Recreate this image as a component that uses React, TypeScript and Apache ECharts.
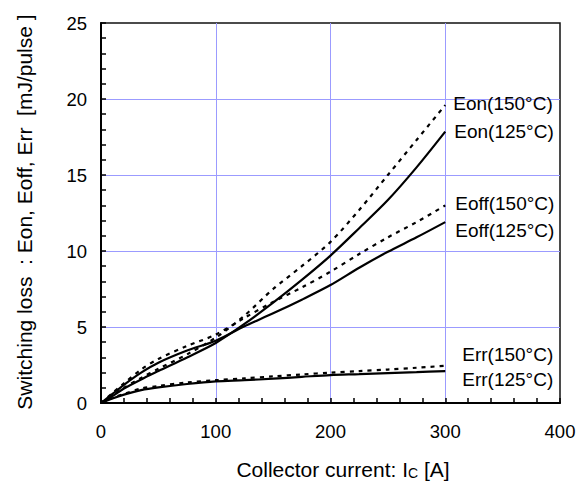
import React, { useEffect, useRef } from "react";
import * as echarts from "echarts";

const currents = [0, 10, 20, 35, 50, 75, 100, 125, 150, 175, 200, 225, 250, 275, 300];
const eon125 = [0, 0.45, 0.95, 1.55, 2.1, 3.0, 3.95, 5.2, 6.6, 8.1, 9.7, 11.5, 13.35, 15.5, 17.85];
const eon150 = [0, 0.5, 1.0, 1.65, 2.25, 3.2, 4.3, 5.75, 7.5, 9.0, 10.6, 12.7, 15.0, 17.3, 19.6];
const eoff125 = [0, 0.6, 1.2, 2.0, 2.65, 3.45, 4.1, 5.05, 5.9, 6.8, 7.76, 8.9, 9.95, 10.9, 11.9];
const eoff150 = [0, 0.65, 1.3, 2.2, 2.9, 3.75, 4.5, 5.6, 6.65, 7.6, 8.64, 9.8, 10.9, 11.9, 13.0];
const err125 = [0, 0.3, 0.55, 0.85, 1.03, 1.25, 1.42, 1.5, 1.6, 1.72, 1.84, 1.9, 1.97, 2.03, 2.1];
const err150 = [0, 0.33, 0.6, 0.95, 1.12, 1.35, 1.5, 1.62, 1.75, 1.88, 2.0, 2.1, 2.2, 2.32, 2.45];

const seriesNames = ["Eon(150°C)", "Eon(125°C)", "Eoff(150°C)", "Eoff(125°C)", "Err(150°C)", "Err(125°C)"];
const seriesValues = [eon150, eon125, eoff150, eoff125, err150, err125];
const seriesDashed = [true, false, true, false, true, false];
const labelOffsets: number[][] = [[0, -2], [1, 0], [2, -2], [2, 8], [9, -11], [9, 8]];

const xTicks = [0, 100, 200, 300, 400];
const yTicks = [0, 5, 10, 15, 20, 25];

const FONT = "'Liberation Sans', Arial, sans-serif";

export default function App() {
  const ref = useRef<HTMLDivElement>(null);
  useEffect(() => {
    if (!ref.current) return;
    const chart = echarts.init(ref.current, undefined, { renderer: "svg" });
    chart.setOption({
      animation: false,
      backgroundColor: "#fff",
      textStyle: { fontFamily: FONT },
      grid: {
        left: 101, right: 24, top: 23, bottom: 87,
        show: true, borderColor: "#111", borderWidth: 1.5,
      },
      xAxis: {
        type: "value",
        min: xTicks[0], max: xTicks[xTicks.length - 1], interval: 100,
        axisLine: { show: true, onZero: false, lineStyle: { color: "#000", width: 2 } },
        axisTick: { show: true, inside: true, length: 5, lineStyle: { color: "#000", width: 1.5 } },
        minorTick: { show: true, splitNumber: 5, length: 5, lineStyle: { color: "#000", width: 1.5 } },
        splitLine: { show: true, showMinLine: false, showMaxLine: false, lineStyle: { color: "#9b9bff", width: 1 } },
        axisLabel: { color: "#000", fontSize: 18.5, margin: 19, fontFamily: FONT },
      },
      yAxis: {
        type: "value",
        min: yTicks[0], max: yTicks[yTicks.length - 1], interval: 5,
        axisLine: { show: true, onZero: false, lineStyle: { color: "#000", width: 2 } },
        axisTick: { show: true, inside: true, length: 5, lineStyle: { color: "#000", width: 1.5 } },
        minorTick: { show: true, splitNumber: 5, length: 5, lineStyle: { color: "#000", width: 1.5 } },
        splitLine: { show: true, showMinLine: false, showMaxLine: false, lineStyle: { color: "#9b9bff", width: 1 } },
        axisLabel: { color: "#000", fontSize: 18.5, margin: 14, fontFamily: FONT },
      },
      graphic: [
        {
          type: "text",
          x: 24, y: 212, rotation: Math.PI / 2,
          style: {
            text: "Switching loss  : Eon, Eoff, Err  [mJ/pulse ]",
            fontSize: 21, fontFamily: FONT, fill: "#000",
            align: "center", verticalAlign: "middle",
          },
        },
        {
          type: "text",
          x: 343, y: 469,
          style: {
            text: "{a|Collector current: I}{b|C}{a| [A]}",
            rich: {
              a: { fontSize: 21, fontFamily: FONT, fill: "#000", color: "#000" },
              b: { fontSize: 14, fontFamily: FONT, fill: "#000", color: "#000", padding: [7, 0, 0, 0] },
            },
            align: "center", verticalAlign: "middle",
          },
        },
      ],
      series: seriesNames.map((name, i) => ({
        name,
        type: "line",
        data: currents.map((c, j) => [c, seriesValues[i][j]]),
        smooth: 0.3,
        symbol: "none",
        lineStyle: {
          color: "#000",
          width: 2.2,
          type: seriesDashed[i] ? [4, 5] : "solid",
        },
        endLabel: {
          show: true,
          formatter: name,
          color: "#000",
          fontSize: 19,
          fontFamily: FONT,
          offset: labelOffsets[i],
        },
      })),
    });
    return () => chart.dispose();
  }, []);
  return (
    <div
      ref={ref}
      style={{ position: "fixed", left: 0, top: 0, width: 584, height: 490 }}
    />
  );
}
